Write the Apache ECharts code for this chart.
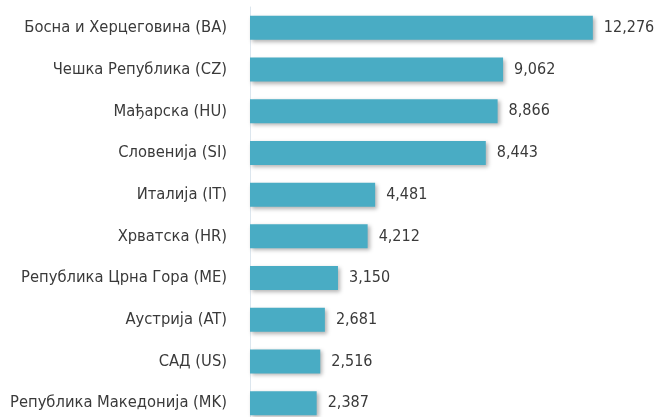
<!DOCTYPE html>
<html>
<head>
<meta charset="utf-8">
<style>
  html, body { margin: 0; padding: 0; background: #fff; }
  #chart { width: 659px; height: 417px; }
</style>
<script src="https://cdn.jsdelivr.net/npm/echarts@6/dist/echarts.min.js"></script>
</head>
<body>
<div id="chart"></div>
<script>
// categories top to bottom
let countries = [
  "Босна и Херцеговина (BA)",
  "Чешка Република (CZ)",
  "Мађарска (HU)",
  "Словенија (SI)",
  "Италија (IT)",
  "Хрватска (HR)",
  "Република Црна Гора (ME)",
  "Аустрија (AT)",
  "САД (US)",
  "Република Македонија (MK)"
];
let values = [12276, 9062, 8866, 8443, 4481, 4212, 3150, 2681, 2516, 2387];

const font = '"Liberation Sans Narrow", "DejaVu Sans Condensed", sans-serif';

function fmt(v) {
  return v.toString().replace(/\B(?=(\d{3})+(?!\d))/g, ",");
}

const chart = echarts.init(document.getElementById("chart"));
chart.setOption({
  animation: false,
  grid: { left: 250, top: 7, width: 391, height: 417, outerBoundsMode: "none" },
  xAxis: {
    type: "value",
    min: 0,
    max: 14000,
    show: false
  },
  yAxis: {
    type: "category",
    inverse: true,
    data: countries,
    axisLine: { lineStyle: { color: "#dce6ee", width: 1 } },
    axisTick: { show: false },
    axisLabel: {
      margin: 23,
      color: "#3a3a3a",
      fontSize: 16.4,
      fontFamily: font
    }
  },
  series: [{
    type: "bar",
    data: values,
    barWidth: 24,
    itemStyle: {
      color: "#49acc4",
      shadowColor: "rgba(0,0,0,0.3)",
      shadowBlur: 4,
      shadowOffsetX: 2,
      shadowOffsetY: 2
    },
    label: {
      show: true,
      position: "right",
      distance: 11,
      color: "#3a3a3a",
      fontSize: 16,
      fontFamily: font,
      formatter: p => fmt(p.value)
    }
  }]
});
</script>
</body>
</html>
